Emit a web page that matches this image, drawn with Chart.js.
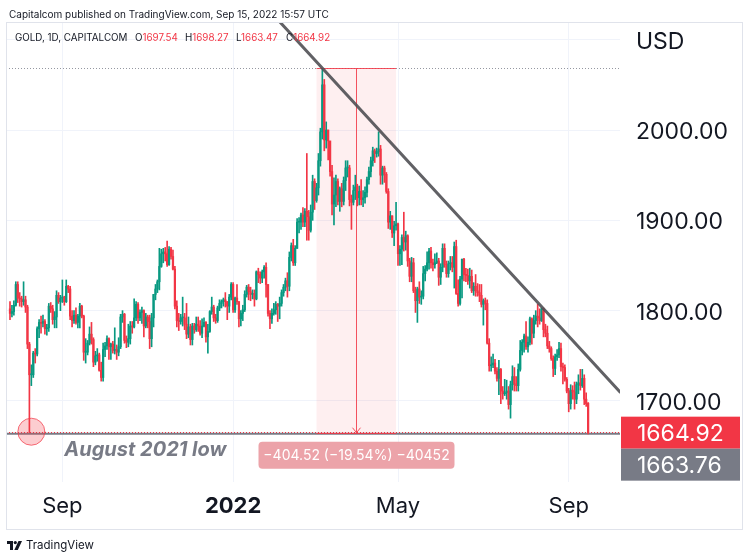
<!DOCTYPE html>
<html>
<head>
<meta charset="utf-8">
<script src="https://cdn.jsdelivr.net/npm/chart.js@4.4.0/dist/chart.umd.min.js"></script>
<style>
html,body{margin:0;padding:0;background:#fff;}
#wrap{position:relative;width:750px;height:559px;overflow:hidden;font-family:Inter,"Noto Sans",sans-serif;color:#131722;}
#c{position:absolute;left:0;top:0;}
.pub{position:absolute;left:9px;top:7px;font-size:10px;line-height:14px;white-space:pre;}
.leg{position:absolute;top:31px;font-size:9.8px;line-height:13px;white-space:pre;}
.leg .v{color:#f23645;}
.tv{position:absolute;left:7px;top:538px;font-size:11.5px;line-height:14px;white-space:pre;display:flex;align-items:center;gap:4px;}
</style>
</head>
<body>
<div id="wrap">
<canvas id="c" width="750" height="559"></canvas>
<div class="pub">Capitalcom published on TradingView.com, Sep 15, 2022 15:57 UTC</div>
<div class="leg" style="left:15px">GOLD, 1D, CAPITALCOM</div>
<div class="leg" style="left:135px">O<span class="v">1697.54</span></div>
<div class="leg" style="left:185px">H<span class="v">1698.27</span></div>
<div class="leg" style="left:236px">L<span class="v">1663.47</span></div>
<div class="leg" style="left:286px">C<span class="v">1664.92</span></div>
<div class="tv"><svg width="15" height="9" viewBox="0 0 15 9"><path d="M0 0h6v9H3V3H0z" fill="#131722"/><circle cx="8.3" cy="1.6" r="1.6" fill="#131722"/><path d="M11.5 0h3.5l-4.2 9H7.3z" fill="#131722"/></svg><span>TradingView</span></div>
</div>
<script>
// ---- categories: trading days (weekdays) from first to last bar ----
const firstDay = '2021-07-26';
const lastDay = '2022-09-15';

// ---- OHLC series (daily, USD) ----
const opens = [
1802,1797,1799,1806,1829,
1814,1813,1810,1812,1804,1763,1729,1729,1753,1752,1780,1787,1786,1788,1780,1781,1805,1802,1790,1793,1817,1810,
1814,1815,1810,1827,1824,1794,1789,1795,1787,1794,1805,1794,1754,1754,1764,1774,1768,1743,1750,1751,1734,1726,
1757,1761,1769,1760,1763,1756,1757,1754,1760,1793,1796,1767,1765,1769,1783,1782,1792,1807,1792,1798,1800,
1783,1793,1788,1769,1792,1818,1824,1832,1849,1863,1865,1863,1851,1868,1860,1846,1805,1789,1788,1792,1792,1785,
1774,1782,1768,1783,1779,1785,1783,1775,1783,1787,1771,1777,1799,1804,1792,1789,1803,1808,1810,1812,1810,1805,1815,
1829,1801,1814,1810,1791,1797,1801,1818,1826,1821,1818,1819,1813,1843,1840,1836,1843,1848,1829,1797,1791,
1797,1801,1807,1805,1808,1820,1826,1833,1827,1859,1872,1853,1869,1898,1898,1906,1898,1910,1904,1889,
1909,1943,1922,1936,1966,1998,2050,1989,2000,1988,1954,1918,1928,1943,1921,1935,1921,1944,1958,1958,1923,1920,1933,
1937,1925,1932,1923,1925,1931,1945,1954,1966,1977,1974,1976,1979,1950,1958,1951,1932,1898,1905,1886,1894,
1896,1863,1868,1881,1876,1883,1855,1838,1853,1822,1811,1824,1815,1816,1841,1846,1853,1866,1853,1851,1853,1855,
1837,1848,1869,1851,1841,1852,1853,1848,1871,1819,1808,1835,1857,1840,1839,1833,1838,1822,1827,1822,1820,1817,
1807,1811,1808,1764,1739,1740,1742,1733,1725,1735,1711,1708,1709,1711,1696,1718,1727,1719,1717,1735,1756,
1765,1772,1760,1765,1791,1775,1789,1794,1792,1789,1802,1779,1775,1761,1758,1747,1736,1749,1751,1758,1738,1737,1724,
1711,1697,1712,1710,1702,1718,1720,1717,1725,1702,1697.54
];
const highs = [
1810,1806,1811,1832,1832,
1820,1816,1832,1816,1806,1765,1740,1755,1758,1782,1790,1794,1795,1790,1785,1808,1809,1806,1799,1822,1820,1817,
1834,1816,1834,1828,1827,1800,1800,1803,1796,1808,1806,1795,1769,1767,1782,1787,1770,1755,1758,1753,1743,1764,
1765,1772,1770,1764,1766,1781,1762,1770,1796,1800,1797,1772,1785,1788,1788,1813,1810,1809,1801,1804,1801,
1797,1795,1795,1797,1818,1829,1834,1869,1868,1869,1870,1877,1871,1870,1867,1849,1811,1797,1796,1815,1797,1808,
1793,1785,1786,1786,1793,1793,1789,1791,1792,1788,1785,1800,1815,1806,1796,1805,1812,1812,1814,1820,1810,1818,1831,
1831,1815,1829,1810,1800,1806,1822,1828,1829,1826,1823,1823,1844,1847,1843,1845,1850,1853,1829,1800,1802,
1808,1810,1808,1815,1823,1829,1836,1842,1865,1875,1879,1872,1902,1903,1908,1914,1913,1974,1911,1917,
1950,1946,1941,1974,2002,2068,2056,2009,2000,1985,1961,1947,1950,1946,1937,1941,1948,1966,1966,1961,1928,1939,1950,
1940,1938,1945,1933,1937,1948,1959,1970,1981,1979,1980,1998,1983,1960,1960,1953,1935,1910,1905,1899,1920,
1897,1872,1884,1909,1888,1884,1858,1859,1858,1826,1826,1832,1822,1849,1850,1865,1869,1870,1857,1863,1864,1858,
1852,1874,1874,1855,1855,1860,1860,1876,1878,1834,1838,1857,1858,1847,1846,1847,1845,1831,1840,1830,1829,1829,
1813,1814,1812,1769,1749,1752,1746,1737,1745,1736,1716,1724,1723,1716,1722,1739,1737,1727,1741,1767,1768,
1774,1788,1771,1793,1792,1795,1800,1807,1802,1803,1803,1785,1783,1766,1760,1750,1752,1757,1765,1764,1742,1740,1726,
1714,1718,1717,1721,1721,1729,1735,1735,1729,1709,1698.27
];
const lows = [
1790,1793,1795,1805,1809,
1805,1804,1806,1798,1758,1665,1717,1726,1742,1750,1770,1775,1782,1774,1773,1777,1798,1785,1781,1781,1808,1800,
1809,1806,1809,1820,1790,1782,1786,1785,1781,1781,1792,1745,1742,1751,1762,1763,1738,1740,1744,1733,1722,1722,
1749,1757,1746,1746,1753,1752,1746,1750,1758,1787,1764,1759,1760,1763,1775,1781,1789,1786,1789,1786,1771,
1781,1781,1758,1760,1782,1812,1820,1823,1848,1853,1855,1849,1850,1857,1845,1802,1782,1778,1785,1783,1779,1769,
1770,1762,1762,1775,1777,1777,1773,1770,1782,1765,1753,1776,1796,1788,1786,1787,1800,1803,1805,1804,1790,1798,1812,
1798,1798,1807,1782,1783,1789,1799,1815,1812,1811,1813,1805,1812,1831,1830,1831,1836,1815,1794,1780,1786,
1795,1796,1788,1791,1805,1816,1822,1815,1822,1855,1850,1850,1869,1886,1890,1893,1893,1878,1878,1887,
1900,1912,1920,1928,1960,1990,1977,1980,1967,1949,1906,1895,1915,1917,1910,1915,1917,1933,1948,1916,1890,1917,1923,
1916,1917,1917,1915,1919,1926,1940,1948,1960,1964,1970,1971,1940,1940,1942,1930,1891,1890,1881,1872,1889,
1850,1850,1851,1866,1867,1849,1832,1832,1820,1798,1787,1808,1807,1813,1833,1844,1846,1847,1844,1847,1852,1828,
1829,1843,1848,1837,1837,1845,1843,1825,1818,1805,1806,1814,1833,1832,1829,1825,1820,1817,1816,1816,1810,1804,
1784,1801,1763,1733,1733,1737,1730,1722,1707,1697,1702,1706,1702,1691,1681,1712,1711,1711,1711,1733,1751,
1754,1757,1754,1762,1763,1770,1785,1782,1785,1788,1771,1771,1758,1754,1745,1727,1729,1745,1748,1733,1719,1722,1709,
1688,1691,1702,1691,1697,1708,1712,1715,1696,1694,1663.47
];
const closes = [
1797,1799,1806,1829,1814,
1813,1810,1812,1804,1763,1729,1729,1753,1752,1780,1787,1786,1788,1780,1781,1805,1802,1790,1793,1817,1810,1814,
1815,1810,1827,1824,1794,1789,1795,1787,1794,1805,1794,1754,1754,1764,1774,1768,1743,1750,1751,1734,1726,1757,
1761,1769,1760,1763,1756,1757,1754,1760,1793,1796,1767,1765,1769,1783,1782,1792,1807,1792,1798,1800,1783,
1793,1788,1769,1792,1818,1824,1832,1849,1863,1865,1863,1851,1868,1860,1846,1805,1789,1788,1792,1792,1785,1774,
1782,1768,1783,1779,1785,1783,1775,1783,1787,1771,1777,1799,1804,1792,1789,1803,1808,1810,1812,1810,1805,1815,1829,
1801,1814,1810,1791,1797,1801,1818,1826,1821,1818,1819,1813,1843,1840,1836,1843,1848,1829,1797,1791,1797,
1801,1807,1805,1808,1820,1826,1833,1827,1859,1872,1853,1869,1898,1898,1906,1898,1910,1904,1889,1909,
1943,1922,1936,1966,1998,2050,1989,2000,1988,1954,1918,1928,1943,1921,1935,1921,1944,1958,1958,1923,1920,1933,1937,
1925,1932,1923,1925,1931,1945,1954,1966,1977,1974,1976,1979,1950,1958,1951,1932,1898,1905,1886,1894,1896,
1863,1868,1881,1876,1883,1855,1838,1853,1822,1811,1824,1815,1816,1841,1846,1853,1866,1853,1851,1853,1855,1837,
1848,1869,1851,1841,1852,1853,1848,1871,1819,1808,1835,1857,1840,1839,1833,1838,1822,1827,1822,1820,1817,1807,
1811,1808,1764,1739,1740,1742,1733,1725,1735,1711,1708,1709,1711,1696,1718,1727,1719,1717,1735,1756,1765,
1772,1760,1765,1791,1775,1789,1794,1792,1789,1802,1779,1775,1761,1758,1747,1736,1749,1751,1758,1738,1737,1724,1711,
1697,1712,1710,1702,1718,1720,1717,1725,1702,1697,1664.92
];

// ---- axis ticks ----
const timeTickDates = ['2021-09-01','2022-01-03','2022-05-02','2022-09-01'];
const timeTickLabels = ['Sep','2022','May','Sep'];
const boldTimeLabel = '2022';
const priceTickValues = [1700,1800,1900,2000,2100];
const priceTickLabels = ['1700.00','1800.00','1900.00','2000.00','USD'];

// ---- drawings (in data terms) ----
const rangeHigh = 2068.28;
const rangeLow = 1663.76;
const measureFromDate = '2022-03-03';
const measureToDate = '2022-04-29';
const measureText = '\u2212404.52 (\u221219.54%) \u221240452';
const lastClose = 1664.92;
const levelLine = 1663.76;
const trendA = ['2022-03-08', 2068.5];
const trendB = ['2022-08-12', 1804.5];
const circleDate = '2021-08-10';
const noteText = 'August 2021 low';
const noteDate = '2021-09-02';
const notePrice = 1646;

// build weekday categories
function weekdays(a, b){
  const out = [];
  const d = new Date(a + 'T00:00:00Z'), e = new Date(b + 'T00:00:00Z');
  while (d <= e){
    const w = d.getUTCDay();
    if (w !== 0 && w !== 6) out.push(d.toISOString().slice(0,10));
    d.setUTCDate(d.getUTCDate()+1);
  }
  return out;
}
const dates = weekdays(firstDay, lastDay);
const idx = s => dates.indexOf(s);

const UP = '#089981', DOWN = '#f23645';
const isUp = i => closes[i] >= opens[i];
const bodies = dates.map((d,i)=>({x:i, y:[opens[i], closes[i]]}));
const wicks = dates.map((d,i)=>({x:i, y:[lows[i], highs[i]]}));
const colors = dates.map((d,i)=> isUp(i) ? UP : DOWN);

const FONT = 'Inter, "Noto Sans", sans-serif';

const annot = {
  id: 'annot',
  beforeDatasetsDraw(chart){
    const {ctx, chartArea:a} = chart; const X = chart.scales.x, Y = chart.scales.y;
    ctx.save();
    ctx.beginPath(); ctx.rect(a.left, a.top, a.right-a.left, a.bottom-a.top); ctx.clip();
    const x0 = X.getPixelForValue(idx(measureFromDate)), x1 = X.getPixelForValue(idx(measureToDate));
    const yT = Y.getPixelForValue(rangeHigh), yB = Y.getPixelForValue(rangeLow);
    ctx.fillStyle = 'rgba(242,54,69,0.08)';
    ctx.fillRect(x0, yT, x1-x0, yB-yT);
    // dotted line at range high
    ctx.strokeStyle = '#9598a1'; ctx.lineWidth = 1; ctx.setLineDash([1,2]);
    ctx.beginPath(); ctx.moveTo(a.left, Math.round(yT)+0.5); ctx.lineTo(a.right, Math.round(yT)+0.5); ctx.stroke();
    // horizontal level
    ctx.setLineDash([]); ctx.strokeStyle = '#787b86'; ctx.lineWidth = 2;
    const yl = Y.getPixelForValue(levelLine);
    ctx.beginPath(); ctx.moveTo(a.left, yl); ctx.lineTo(a.right, yl); ctx.stroke();
    // last price line
    ctx.strokeStyle = '#f23645'; ctx.lineWidth = 1; ctx.setLineDash([1,2]);
    const yc = Math.round(Y.getPixelForValue(lastClose)) - 0.5;
    ctx.beginPath(); ctx.moveTo(a.left, yc); ctx.lineTo(a.right, yc); ctx.stroke();
    ctx.restore();
  },
  afterDatasetsDraw(chart){
    const {ctx, chartArea:a} = chart; const X = chart.scales.x, Y = chart.scales.y;
    ctx.save();
    ctx.beginPath(); ctx.rect(a.left, a.top, a.right-a.left, a.bottom-a.top); ctx.clip();
    // measure lines
    const x0 = X.getPixelForValue(idx(measureFromDate)), x1 = X.getPixelForValue(idx(measureToDate));
    const yT = Y.getPixelForValue(rangeHigh), yB = Y.getPixelForValue(rangeLow);
    const xm = Math.round((x0+x1)/2) + 0.5;
    ctx.strokeStyle = 'rgba(242,54,69,0.85)'; ctx.lineWidth = 1;
    ctx.beginPath();
    ctx.moveTo(x0, Math.round(yT)+0.5); ctx.lineTo(x1, Math.round(yT)+0.5);
    ctx.moveTo(x0, Math.round(yB)-0.5); ctx.lineTo(x1, Math.round(yB)-0.5);
    ctx.moveTo(xm, yT); ctx.lineTo(xm, yB-1);
    ctx.moveTo(xm-4, yB-6); ctx.lineTo(xm, yB-1); ctx.lineTo(xm+4, yB-6);
    ctx.stroke();
    // trend line
    const ia = idx(trendA[0]), ib = idx(trendB[0]);
    const slope = (trendB[1]-trendA[1])/(ib-ia);
    const s0 = X.min, s1 = X.max;
    ctx.strokeStyle = 'rgba(80,80,84,0.9)'; ctx.lineWidth = 3; ctx.lineCap = 'round';
    ctx.beginPath();
    ctx.moveTo(X.getPixelForValue(s0), Y.getPixelForValue(trendA[1] + slope*(s0-ia)));
    ctx.lineTo(X.getPixelForValue(s1), Y.getPixelForValue(trendA[1] + slope*(s1-ia)));
    ctx.stroke();
    // circle
    const cx = X.getPixelForValue(idx(circleDate)), cy = Y.getPixelForValue(levelLine) - 2;
    ctx.beginPath(); ctx.arc(cx, cy, 13.5, 0, Math.PI*2);
    ctx.fillStyle = 'rgba(242,54,69,0.25)'; ctx.fill();
    ctx.strokeStyle = 'rgba(242,54,69,0.7)'; ctx.lineWidth = 1; ctx.stroke();
    // note text
    ctx.fillStyle = '#787b86';
    ctx.font = 'italic bold 20px ' + FONT;
    ctx.textAlign = 'left'; ctx.textBaseline = 'middle';
    ctx.fillText(noteText, X.getPixelForValue(idx(noteDate)), Y.getPixelForValue(notePrice));
    // measure label
    const bw = 196, bh = 27, bx = xm - bw/2, by = yB + 8;
    ctx.fillStyle = '#eca3a9';
    ctx.beginPath(); ctx.roundRect(bx, by, bw, bh, 4); ctx.fill();
    ctx.fillStyle = '#ffffff'; ctx.font = '14px ' + FONT; ctx.textAlign = 'center';
    ctx.fillText(measureText, xm, by + bh/2 + 0.5);
    ctx.restore();
  },
  afterDraw(chart){
    const {ctx} = chart; const Y = chart.scales.y;
    ctx.save();
    // price labels on the axis
    const yc = Y.getPixelForValue(lastClose);
    const h = 32, lx = 621, lw = 119;
    ctx.fillStyle = '#f23645'; ctx.fillRect(lx, yc - h/2, lw, h);
    ctx.fillStyle = '#787b86'; ctx.fillRect(lx, yc + h/2, lw, h);
    ctx.fillStyle = '#ffffff'; ctx.font = '23px ' + FONT; ctx.textAlign = 'left'; ctx.textBaseline = 'middle';
    ctx.fillText(lastClose.toFixed(2), 637, yc + 1);
    ctx.fillText(levelLine.toFixed(2), 637, yc + h + 1);
    // frame
    ctx.strokeStyle = '#e0e3eb'; ctx.lineWidth = 1;
    ctx.strokeRect(6.5, 22.5, 736, 507);
    ctx.restore();
  }
};

new Chart(document.getElementById('c'), {
  type: 'bar',
  data: {
    datasets: [
      { label: 'body', data: bodies, backgroundColor: colors, grouped: false, barThickness: 1.6, minBarLength: 1, borderWidth: 0 },
      { label: 'wick', data: wicks, backgroundColor: colors, grouped: false, barThickness: 1, borderWidth: 0 }
    ]
  },
  options: {
    responsive: false,
    devicePixelRatio: 1,
    animation: false,
    events: [],
    layout: { padding: { left: 6, right: 8, top: 22, bottom: 30 } },
    plugins: { legend: { display: false }, tooltip: { enabled: false } },
    scales: {
      x: {
        type: 'linear', offset: false,
        min: -2.06, max: 314.43,
        afterFit: s => { s.height = 47; s.paddingLeft = 0; s.paddingRight = 0; },
        afterBuildTicks: s => { s.ticks = timeTickDates.map(d => ({ value: idx(d) })); },
        grid: { color: '#f0f3fa', drawTicks: false, offset: false },
        border: { display: false },
        ticks: {
          autoSkip: false, maxRotation: 0, padding: 11, color: '#131722',
          callback: (v) => { const k = timeTickDates.findIndex(d => idx(d) === v); return k >= 0 ? timeTickLabels[k] : ''; },
          font: (c) => {
            const k = c.tick ? timeTickDates.findIndex(d => idx(d) === c.tick.value) : -1;
            return { family: FONT, size: 22, weight: (k >= 0 && timeTickLabels[k] === boldTimeLabel) ? 'bold' : 'normal' };
          }
        }
      },
      y: {
        type: 'linear', position: 'right',
        min: 1610.3, max: 2119.6,
        afterFit: s => { s.width = 122; s.paddingTop = 0; s.paddingBottom = 0; },
        afterBuildTicks: s => { s.ticks = priceTickValues.map(v => ({ value: v })); },
        grid: { color: '#f0f3fa', drawTicks: false },
        border: { display: false },
        ticks: {
          padding: 16, labelOffset: 2, color: '#131722', font: { family: FONT, size: 23 },
          callback: (v) => { const k = priceTickValues.indexOf(v); return k >= 0 ? priceTickLabels[k] : ''; }
        }
      }
    }
  },
  plugins: [annot]
});
</script>
</body>
</html>
